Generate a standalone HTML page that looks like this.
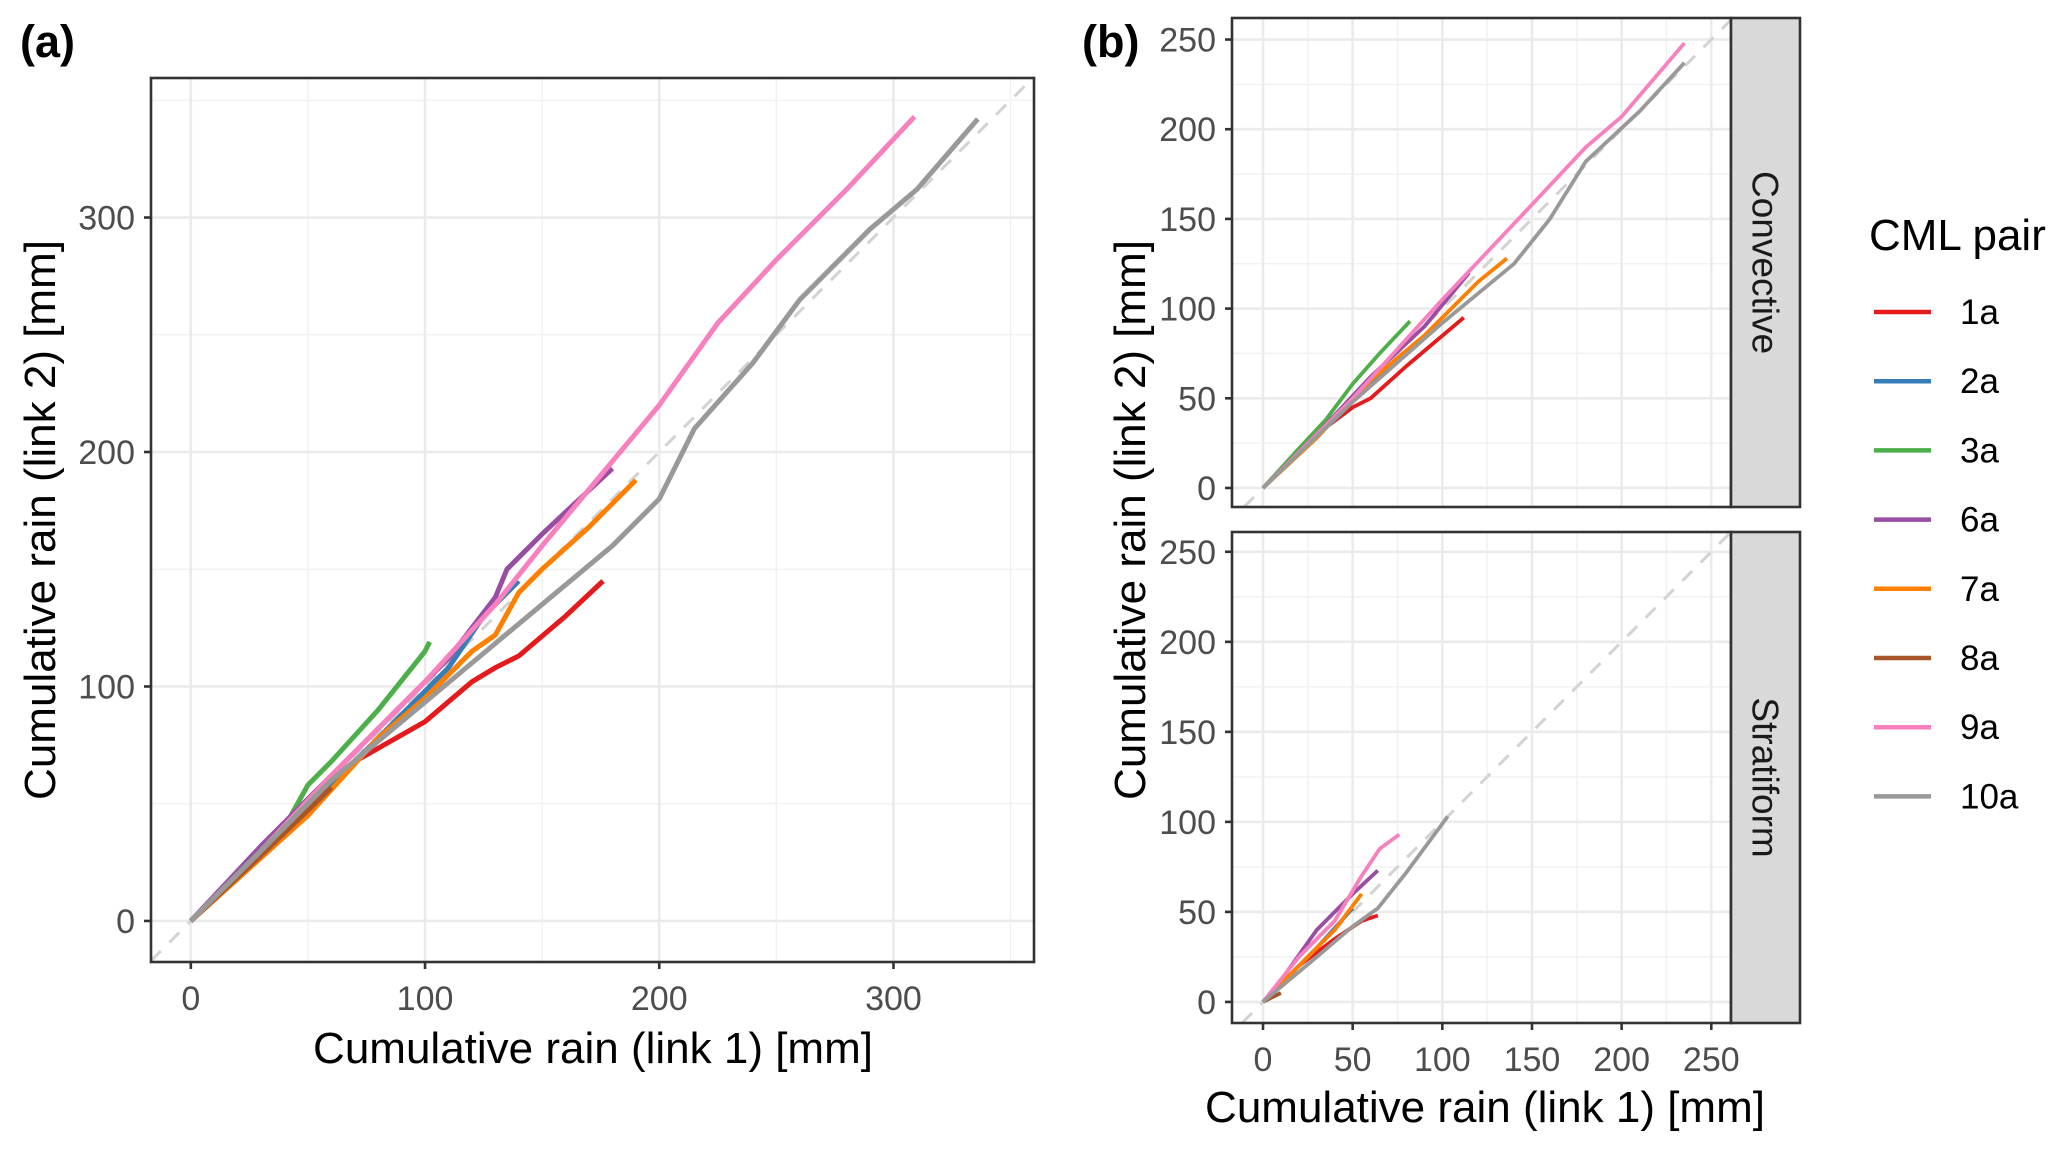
<!DOCTYPE html>
<html><head><meta charset="utf-8"><style>
html,body{margin:0;padding:0;background:#fff;}
svg{display:block;font-family:"Liberation Sans",Arial,sans-serif;}
</style></head><body>
<svg id="chart" width="2067" height="1150" viewBox="0 0 2067 1150">
<text x="20" y="57" font-size="45" font-weight="bold">(a)</text>
<text x="1082" y="57" font-size="45" font-weight="bold">(b)</text>
<text transform="translate(55,520) rotate(-90)" text-anchor="middle" font-size="44">Cumulative rain (link 2) [mm]</text>
<text x="593" y="1063" text-anchor="middle" font-size="44">Cumulative rain (link 1) [mm]</text>
<text transform="translate(1145,520) rotate(-90)" text-anchor="middle" font-size="44">Cumulative rain (link 2) [mm]</text>
<text x="1485" y="1122" text-anchor="middle" font-size="44">Cumulative rain (link 1) [mm]</text>
<g id="layer"></g>
<text x="1869" y="250" font-size="44">CML pair</text>
<g id="legend"></g>
</svg>
<script>
const seriesNames = ['1a','2a','3a','6a','7a','8a','9a','10a'];
const seriesColors = ['#e41a1c','#377eb8','#4daf4a','#984ea3','#ff7f00','#a65628','#f781bf','#999999'];
const ticksA = [0,100,200,300];
const ticksB = [0,50,100,150,200,250];
// panel (a): all events [x,y]
const a1a = [[0,0],[20,20],[50,45],[70,68],[100,85],[120,102],[130,108],[140,113],[160,130],[176,145]];
const a2a = [[0,0],[40,38],[80,78],[110,108],[125,130],[140,145]];
const a3a = [[0,0],[20,20],[40,40],[50,58],[60,68],[80,90],[100,115],[102,119]];
const a6a = [[0,0],[30,32],[60,62],[90,92],[110,112],[130,138],[135,150],[150,165],[180,193]];
const a7a = [[0,0],[20,18],[50,45],[80,78],[100,95],[120,115],[130,122],[140,140],[150,150],[170,168],[190,188]];
const a8a = [[0,0],[30,28],[55,52],[60,57]];
const a9a = [[0,0],[30,30],[60,62],[100,102],[130,135],[150,160],[175,190],[200,220],[225,255],[250,282],[280,312],[309,343]];
const a10a = [[0,0],[30,30],[60,60],[90,85],[120,110],[150,135],[180,160],[200,180],[215,210],[240,238],[260,265],[290,295],[310,312],[336,342]];
// panel (b) convective
const c1a = [[0,0],[30,30],[50,45],[60,50],[80,68],[112,95]];
const c2a = [[0,0],[25,25],[40,38],[60,58],[70,68]];
const c3a = [[0,0],[20,22],[35,38],[50,58],[65,75],[82,93]];
const c6a = [[0,0],[30,30],[60,62],[90,90],[115,120]];
const c7a = [[0,0],[30,28],[60,60],[90,85],[120,115],[136,128]];
const c8a = [[0,0],[20,20],[40,40]];
const c9a = [[0,0],[50,50],[100,105],[150,158],[180,190],[200,207],[235,248]];
const c10a = [[0,0],[50,48],[100,92],[140,125],[160,150],[180,182],[210,210],[235,237]];
// panel (b) stratiform
const s1a = [[0,0],[20,20],[40,35],[55,45],[64,48]];
const s2a = [[0,0],[30,30],[50,52]];
const s3a = [[0,0],[10,10]];
const s6a = [[0,0],[10,12],[30,40],[50,60],[64,73]];
const s7a = [[0,0],[20,20],[40,40],[55,60]];
const s8a = [[0,0],[10,5]];
const s9a = [[0,0],[20,25],[40,45],[55,70],[65,85],[76,93]];
const s10a = [[0,0],[30,25],[50,42],[64,52],[80,72],[103,103]];

const NS='http://www.w3.org/2000/svg';
const layer=document.getElementById('layer');
function mk(tag,attrs,parent){const e=document.createElementNS(NS,tag);for(const k in attrs)e.setAttribute(k,attrs[k]);(parent||layer).appendChild(e);return e;}

function panel(name,box,dom,major,minor,data,lw,showX,strip){
  const sx=v=>box.x0+(v-dom[0])/(dom[1]-dom[0])*(box.x1-box.x0);
  const sy=v=>box.y1-(v-dom[2])/(dom[3]-dom[2])*(box.y1-box.y0);
  const g=mk('g',{});
  
  
  mk('rect',{x:box.x0,y:box.y0,width:box.x1-box.x0,height:box.y1-box.y0,fill:'#fff'},g);
  minor.forEach(v=>{
    const l1=mk('line',{x1:sx(v),x2:sx(v),y1:box.y0,y2:box.y1,stroke:'#f0f0f0','stroke-width':1.3},g);
    
    
    const l2=mk('line',{x1:box.x0,x2:box.x1,y1:sy(v),y2:sy(v),stroke:'#f0f0f0','stroke-width':1.3},g);
    
    
  });
  major.forEach(v=>{
    const l1=mk('line',{x1:sx(v),x2:sx(v),y1:box.y0,y2:box.y1,stroke:'#ebebeb','stroke-width':2.6},g);
    
    
    const l2=mk('line',{x1:box.x0,x2:box.x1,y1:sy(v),y2:sy(v),stroke:'#ebebeb','stroke-width':2.6},g);
    
    
    const t=mk('text',{x:box.x0-16,y:sy(v)+12,'text-anchor':'end','font-size':34,fill:'#4d4d4d'},g);
    t.textContent=v;
    
    
    mk('line',{x1:box.x0-7,x2:box.x0,y1:sy(v),y2:sy(v),stroke:'#333','stroke-width':2.6},g);
    if(showX){
      const tx=mk('text',{x:sx(v),y:box.y1+48,'text-anchor':'middle','font-size':34,fill:'#4d4d4d'},g);
      tx.textContent=v;
      
      
      mk('line',{x1:sx(v),x2:sx(v),y1:box.y1,y2:box.y1+7,stroke:'#333','stroke-width':2.6},g);
    }
  });
  const lo=Math.max(dom[0],dom[2]),hi=Math.min(dom[1],dom[3]);
  const d=mk('line',{x1:sx(lo),y1:sy(lo),x2:sx(hi),y2:sy(hi),stroke:'#d3d3d3','stroke-width':3,'stroke-dasharray':'14,12'},g);
  
  
  data.forEach((pts,i)=>{
    const p=mk('polyline',{points:pts.map(q=>sx(q[0]).toFixed(1)+','+sy(q[1]).toFixed(1)).join(' '),fill:'none',stroke:seriesColors[i],'stroke-width':lw,'stroke-linejoin':'round','stroke-linecap':'butt'},g);
    
    
  });
  mk('rect',{x:box.x0,y:box.y0,width:box.x1-box.x0,height:box.y1-box.y0,fill:'none',stroke:'#333','stroke-width':2.6},g);
  if(strip){
    const s=mk('rect',{x:box.x1,y:box.y0,width:69,height:box.y1-box.y0,fill:'#d9d9d9',stroke:'#333','stroke-width':2.6},g);
    
    
    const cy=(box.y0+box.y1)/2, cx=box.x1+34.5;
    const st=mk('text',{transform:`translate(${cx-13},${cy}) rotate(90)`,'text-anchor':'middle','font-size':37,fill:'#1a1a1a'},g);
    st.textContent=strip;
    
    
  }
}
panel('panel-a',{x0:151,x1:1034,y0:78,y1:962},[-17,360,-17.5,359.5],ticksA,[50,150,250,350],[a1a,a2a,a3a,a6a,a7a,a8a,a9a,a10a],5,true,null);
panel('panel-b-convective',{x0:1232,x1:1731,y0:18,y1:507},[-17.3,261,-10.6,262],ticksB,[25,75,125,175,225],[c1a,c2a,c3a,c6a,c7a,c8a,c9a,c10a],3.8,false,'Convective');
panel('panel-b-stratiform',{x0:1232,x1:1731,y0:532,y1:1023},[-17.3,261,-11.7,261],ticksB,[25,75,125,175,225],[s1a,s2a,s3a,s6a,s7a,s8a,s9a,s10a],3.8,true,'Stratiform');

const leg=document.getElementById('legend');
seriesNames.forEach((n,i)=>{
  const y=312+i*69.2;
  const l=mk('line',{x1:1874,x2:1931,y1:y,y2:y,stroke:seriesColors[i],'stroke-width':4.5},leg);
  
  
  const t=mk('text',{x:1960,y:y+12,'font-size':35,fill:'#000'},leg);
  t.textContent=n;
  
  
});
</script>
</body></html>
